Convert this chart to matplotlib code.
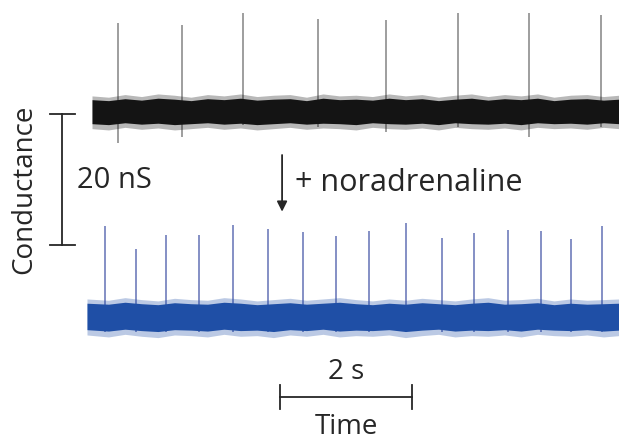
import matplotlib
matplotlib.use("Agg")
import matplotlib.pyplot as plt
import numpy as np

# ---------------- data (time in s, conductance in nS) ----------------
# control recording (black)
black_spike_times = [0.39, 1.36, 2.29, 3.42, 4.45, 5.54, 6.62, 7.71]
black_spike_amps = [13.4, 13.1, 15.0, 14.0, 13.9, 15.0, 15.0, 14.7]
black_spike_dips = [4.9, 4.0, 2.2, 2.4, 3.2, 2.4, 4.0, 2.4]

# + noradrenaline recording (blue)
blue_spike_times = [0.20, 0.66, 1.12, 1.62, 2.14, 2.66, 3.20, 3.70,
                    4.20, 4.76, 5.30, 5.79, 6.30, 6.80, 7.26, 7.73]
blue_spike_amps = [13.7, 10.2, 12.4, 12.4, 13.9, 13.3, 12.8, 12.2,
                   13.0, 14.2, 11.9, 12.7, 13.1, 13.0, 11.8, 13.7]

# baseline noise envelope (nS from baseline), sampled every 0.25 s
env_times = [0.25 * i for i in range(33)]
black_env_up = [2.3, 2.1, 2.5, 2.2, 2.6, 2.4, 2.1, 2.5, 2.3, 2.6, 2.2, 2.4, 2.5, 2.1, 2.6, 2.3, 2.4,
                2.2, 2.6, 2.3, 2.5, 2.1, 2.4, 2.6, 2.2, 2.5, 2.3, 2.6, 2.1, 2.4, 2.5, 2.2, 2.4]
black_env_dn = [2.7, 2.9, 2.5, 2.8, 2.6, 2.9, 2.7, 2.5, 2.8, 2.6, 2.9, 2.7, 2.5, 2.8, 2.6, 2.7, 2.9,
                2.5, 2.7, 2.8, 2.6, 2.9, 2.5, 2.7, 2.8, 2.6, 2.9, 2.5, 2.7, 2.6, 2.8, 2.5, 2.7]
blue_env_up = [2.6, 2.4, 2.8, 2.5, 2.3, 2.7, 2.5, 2.4, 2.8, 2.6, 2.3, 2.5, 2.7, 2.4, 2.6, 2.8, 2.5,
               2.3, 2.6, 2.4, 2.7, 2.5, 2.3, 2.6, 2.8, 2.4, 2.5, 2.7, 2.3, 2.6, 2.4, 2.5, 2.6]
blue_env_dn = [2.9, 3.2, 2.8, 3.1, 3.3, 2.9, 3.0, 3.2, 2.8, 3.1, 3.0, 3.3, 2.9, 3.1, 2.8, 3.2, 3.0,
               3.1, 2.9, 3.3, 3.0, 2.8, 3.2, 3.0, 3.1, 2.9, 3.2, 2.8, 3.0, 3.1, 2.9, 3.2, 3.0]

black_baseline = 31.3
blue_baseline = 0.0
scale_conductance = 20   # nS
scale_time = 2           # s

# ---------------- figure ----------------
plt.rcParams['font.family'] = ['Open Sans', 'DejaVu Sans']
fig = plt.figure(figsize=(6.19, 4.43), dpi=100)
ax = fig.add_axes([0, 0, 1, 1])
ax.set_xlim(-1.394, 7.985)
ax.set_ylim(-19.39, 48.24)
ax.axis('off')

BLACK = '#141414'
BLUE = '#1f4fa6'
TXT = '#262626'
FS = 20

def draw_trace(base, t_start, env_up, env_dn, col, spike_t, spike_a, spike_col, dips=None):
    et = np.array(env_times, dtype=float)
    et[0] = t_start
    et[-1] = 7.985
    up = np.array(env_up)
    dn = np.array(env_dn)
    ax.fill_between(et, base - dn, base + up, color=col, alpha=0.3, lw=0, zorder=2)
    ax.fill_between(et, base - dn * 0.72, base + up * 0.75, color=col, lw=0, zorder=3)
    for i, (t, a) in enumerate(zip(spike_t, spike_a)):
        d = dips[i] if dips is not None else 2.4
        ax.plot([t, t], [base - d, base + a], color=spike_col, lw=1.2, zorder=1,
                solid_capstyle='butt')

draw_trace(black_baseline, 0.0, black_env_up, black_env_dn, BLACK,
           black_spike_times, black_spike_amps, '#8e8e8e', black_spike_dips)
draw_trace(blue_baseline, -0.076, blue_env_up, blue_env_dn, BLUE,
           blue_spike_times, blue_spike_amps, '#6f7dbb')

# conductance scale bar
xb = -0.455
ytop = 30.84
ax.plot([xb, xb], [ytop, ytop - scale_conductance], color=TXT, lw=1.3)
for yy in (ytop, ytop - scale_conductance):
    ax.plot([-0.636, -0.258], [yy, yy], color=TXT, lw=1.3)
ax.text(-0.22, ytop - scale_conductance / 2 - 0.2, f'{scale_conductance} nS', fontsize=FS + 1,
        color=TXT, ha='left', va='center')
ax.text(-1.02, ytop - scale_conductance / 2 - 1.5, 'Conductance', fontsize=FS, color=TXT,
        rotation=90, ha='center', va='center')

# arrow + label
ax.annotate('', xy=(2.88, 15.5), xytext=(2.88, 25.0),
            arrowprops=dict(arrowstyle='-|>', color=TXT, lw=1.3, mutation_scale=15))
ax.text(3.08, 20.3, '+ noradrenaline', fontsize=FS + 2, color=TXT, ha='left', va='center')

# time scale bar
t0 = 2.85
yt = -12.37
ax.plot([t0, t0 + scale_time], [yt, yt], color=TXT, lw=1.3)
for tt in (t0, t0 + scale_time):
    ax.plot([tt, tt], [yt - 1.9, yt + 1.9], color=TXT, lw=1.3)
ax.text(t0 + scale_time / 2, -8.5, f'{scale_time} s', fontsize=FS, color=TXT,
        ha='center', va='center')
ax.text(t0 + scale_time / 2, -16.9, 'Time', fontsize=FS, color=TXT,
        ha='center', va='center')

fig.savefig('out.png', dpi=100)
